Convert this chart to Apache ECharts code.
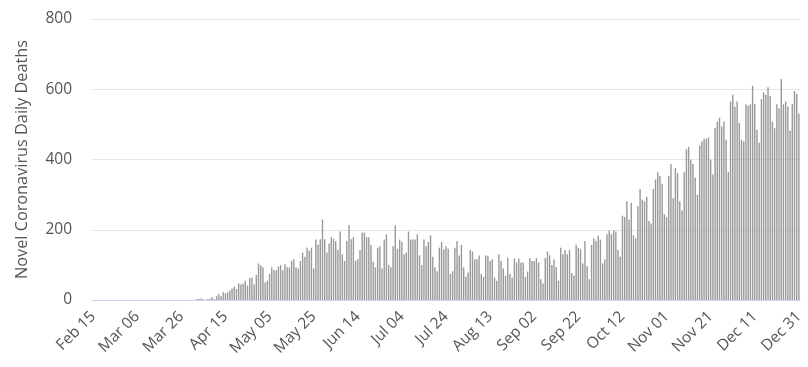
<!DOCTYPE html>
<html>
<head>
<meta charset="utf-8">
<script src="https://cdn.jsdelivr.net/npm/echarts@6/dist/echarts.min.js"></script>
<style>
html,body{margin:0;padding:0;background:#fff;}
#chart{width:808px;height:367px;}
</style>
</head>
<body>
<div id="chart"></div>
<script>
// Daily deaths, Feb 15 - Dec 31 (2020)
const feb = [0,0,0,0,0,0,0,0,0,0,0,0,0,0,0];
const mar = [0,0,0,0,0,0,0,0,0,0,0,0,0,0,0,0,0,0,0,0,0,0,0,0,0,0,0,0,0,0,0];
const apr = [0,3,3,4,2,0,3,4,8,3,11,17,11,22,19,21,27,33,38,31,47,44,47,55,41,62,63,44,71,104];
const may = [99,93,50,55,74,93,85,85,95,100,85,102,93,93,111,116,93,90,111,135,123,149,140,149,90,172,157,173,229,173,135];
const jun = [161,179,174,168,142,195,130,111,168,213,173,179,111,116,142,192,192,179,179,157,109,93,149,153,90,172,187,100,93,153];
const jul = [213,146,172,165,130,135,195,172,172,172,187,127,100,172,153,165,184,123,93,82,149,165,144,153,146,74,82,149,168,127,157];
const aug = [93,66,78,142,138,116,116,127,74,66,127,126,111,116,64,55,130,111,90,69,120,74,63,118,107,118,107,107,66,81,119];
const sep = [111,111,119,107,59,47,119,138,127,100,115,93,55,149,130,142,130,142,77,70,157,149,145,104,168,96,59,157,176,168];
const oct = [183,172,104,115,187,198,187,198,195,142,123,240,236,281,229,277,184,176,267,316,286,281,294,225,218,316,343,364,353,331,244];
const nov = [236,353,387,290,376,361,281,255,364,429,436,399,387,349,300,440,451,459,459,463,399,357,489,508,519,494,508,456,364,565];
const dec = [584,550,565,504,456,451,557,553,557,610,557,485,448,572,591,584,606,580,508,489,557,546,629,557,565,550,482,557,595,587,531];

const monthNames = ['Feb','Mar','Apr','May','Jun','Jul','Aug','Sep','Oct','Nov','Dec'];
const monthStartDay = [15,1,1,1,1,1,1,1,1,1,1];
const monthData = [feb,mar,apr,may,jun,jul,aug,sep,oct,nov,dec];
const yTicks = [0,200,400,600,800];

const categories = [];
const values = [];
monthData.forEach((arr, m) => {
  arr.forEach((v, k) => {
    const d = monthStartDay[m] + k;
    categories.push(monthNames[m] + ' ' + (d < 10 ? '0' + d : '' + d));
    values.push(v);
  });
});

const chart = echarts.init(document.getElementById('chart'), null, {renderer:'canvas'});
const FONT = '"Open Sans", "DejaVu Sans", sans-serif';
chart.setOption({
  animation: false,
  backgroundColor: '#ffffff',
  grid: {left: 92, right: 8, top: 19, bottom: 67},
  xAxis: {
    type: 'category',
    data: categories,
    boundaryGap: true,
    axisLine: {show: true, lineStyle: {color: '#ccd6eb', width: 1}},
    axisTick: {show: false},
    axisLabel: {
      interval: 19,
      rotate: 45,
      color: '#555555',
      fontFamily: FONT,
      fontSize: 15.5,
      margin: 14
    },
    splitLine: {show: false}
  },
  yAxis: {
    type: 'value',
    min: yTicks[0],
    max: yTicks[yTicks.length - 1],
    interval: 200,
    name: 'Novel Coronavirus Daily Deaths',
    nameLocation: 'middle',
    nameGap: 62,
    nameRotate: 90,
    nameTextStyle: {color: '#555555', fontFamily: FONT, fontSize: 16.3},
    axisLine: {show: false},
    axisTick: {show: false},
    axisLabel: {color: '#555555', fontFamily: FONT, fontSize: 15.5, margin: 20},
    splitLine: {show: true, lineStyle: {color: '#e6e6e6', width: 1}}
  },
  series: [{
    type: 'bar',
    data: values,
    barWidth: '64%',
    itemStyle: {color: '#999999'},
    emphasis: {disabled: true}
  }]
});
</script>
</body>
</html>
